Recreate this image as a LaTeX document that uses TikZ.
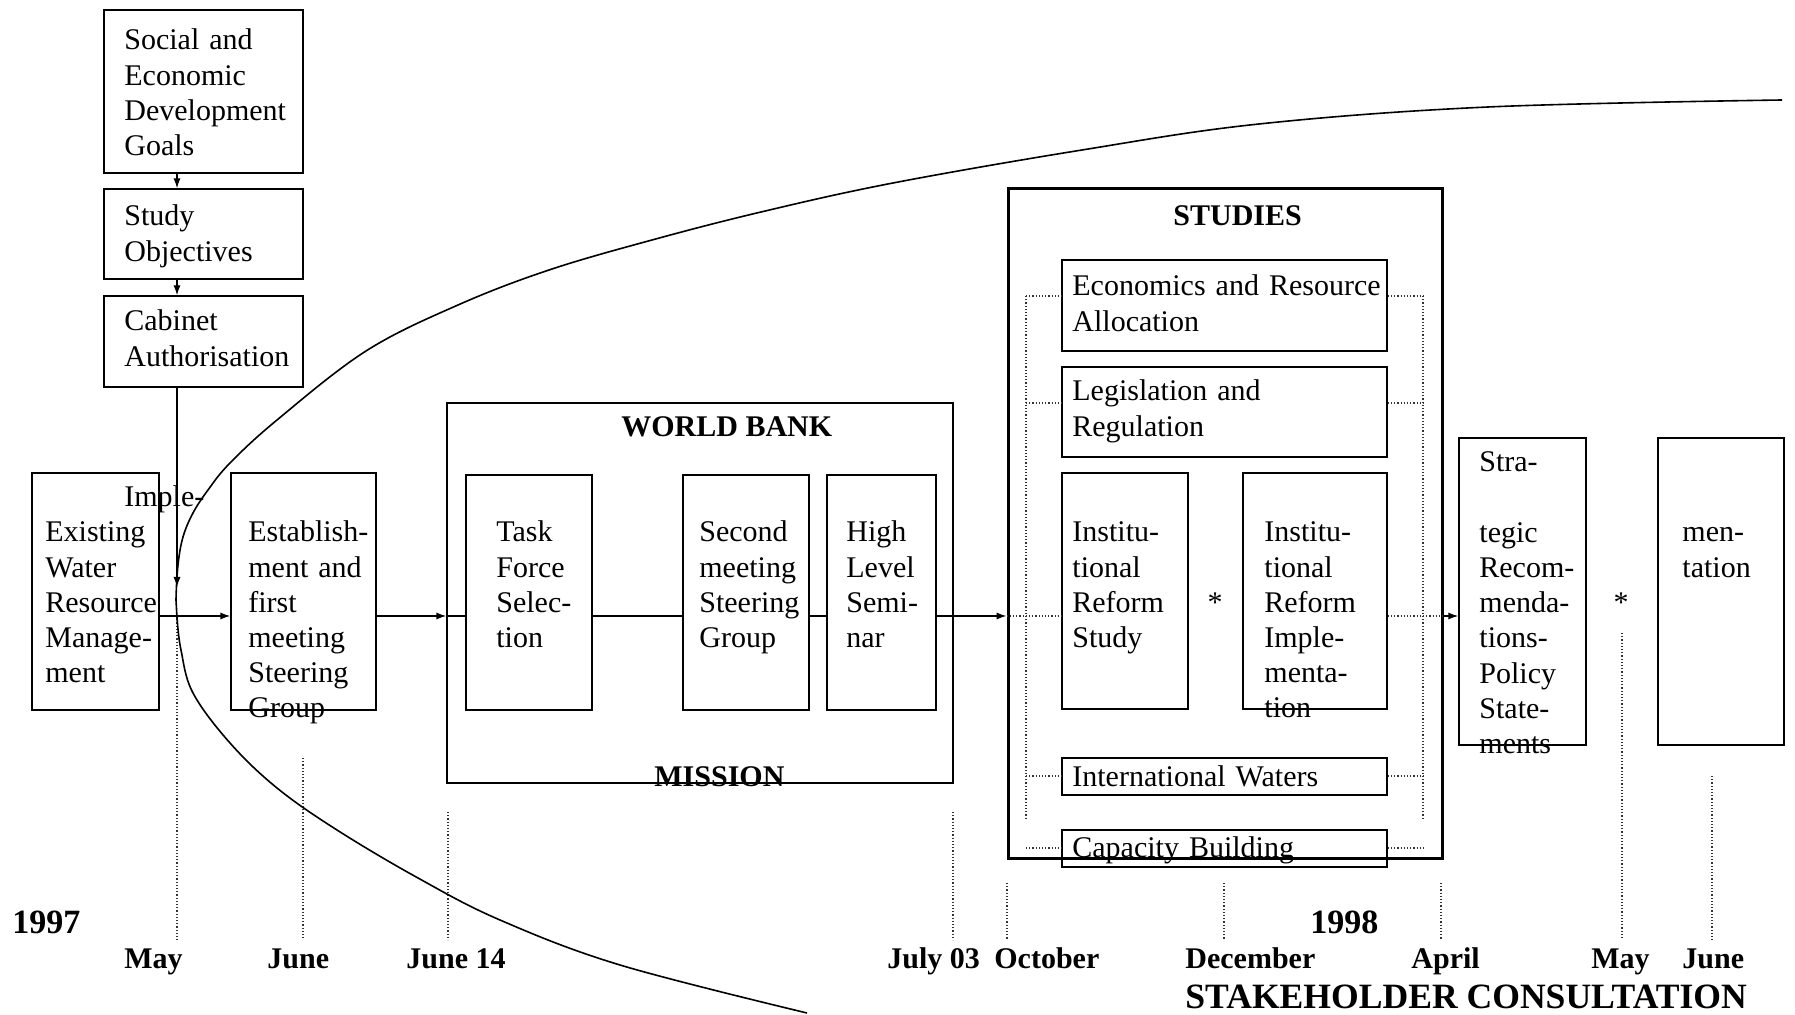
\documentclass[tikz,border=0pt]{standalone}
\usepackage{fontspec}
\setmainfont{Liberation Serif}
\usetikzlibrary{arrows.meta,fit}

\begin{document}
\begin{tikzpicture}[x=0.5pt, y=-0.5pt,
  box/.style={draw, line width=0.7pt, inner sep=0pt},
  txt/.style={anchor=base west, inner sep=0pt, align=left, text width=240pt, font=\fontsize{15}{17.6}\selectfont},
  head/.style={anchor=base west, inner sep=0pt, font=\fontsize{15}{18}\selectfont\bfseries},
  year/.style={anchor=base west, inner sep=0pt, font=\fontsize{17}{20}\selectfont\bfseries},
  arr/.style={line width=0.7pt, -{Latex[length=5pt,width=3.6pt]}},
  link/.style={line width=0.7pt},
  dots/.style={line width=0.6pt, densely dotted, black!80}]
\useasboundingbox (0,0) rectangle (1795,1015);
\pgfmathsetmacro{\ymain}{616} % height of the main line
\pgfmathsetmacro{\ybot}{940} % foot of the time lines
\coordinate (may) at (177,\ymain);
\coordinate (tip) at (177,587);

% boxes
\node[box, fit={(104,10) (303,173)}] (goals) {};
\node[box, fit={(104,189) (303,279)}] (objectives) {};
\node[box, fit={(104,296) (303,387)}] (cabinet) {};
\node[box, fit={(32,473) (159,710)}] (existing) {};
\node[box, fit={(231,473) (376,710)}] (establish) {};
\node[box, fit={(447,403) (953,783)}] (bank) {};
\node[box, fit={(466,475) (592,710)}] (task) {};
\node[box, fit={(683,475) (809,710)}] (second) {};
\node[box, fit={(827,475) (936,710)}] (seminar) {};
\node[box, line width=1.5pt, fit={(1008,189) (1442,858)}] (studies) {};
\node[box, fit={(1062,260) (1387,351)}] (econ) {};
\node[box, fit={(1062,367) (1387,457)}] (legis) {};
\node[box, fit={(1062,473) (1188,709)}] (instudy) {};
\node[box, fit={(1243,473) (1387,709)}] (inimpl) {};
\node[box, fit={(1062,758) (1387,795)}] (intl) {};
\node[box, fit={(1062,830) (1387,867)}] (capacity) {};
\node[box, fit={(1459,438) (1586,745)}] (strategic) {};
\node[box, fit={(1658,438) (1784,745)}] (implement) {};

% texts
\node[txt] (goalstext) at (124,50) {Social and\\Economic\\Development\\Goals};
\node[txt] (objtext) at (124,226) {Study\\Objectives};
\node[txt] (cabtext) at (124,331) {Cabinet\\Authorisation};
\node[txt] (impltop) at (124,507) {Imple-};
\node[txt] (existtext) at (45,542) {Existing\\Water\\Resource\\Manage-\\ment};
\node[txt] (esttext) at (248,542) {Establish-\\ment and\\first\\meeting\\Steering\\Group};
\node[txt] (tasktext) at (496,542) {Task\\Force\\Selec-\\tion};
\node[txt] (sectext) at (699,542) {Second\\meeting\\Steering\\Group};
\node[txt] (semtext) at (846,542) {High\\Level\\Semi-\\nar};
\node[txt] (econtext) at (1072,296) {Economics and Resource\\Allocation};
\node[txt] (legistext) at (1072,401) {Legislation and\\Regulation};
\node[txt] (studytext) at (1072,542) {Institu-\\tional\\Reform\\Study};
\node[txt] (impltext) at (1264,542) {Institu-\\tional\\Reform\\Imple-\\menta-\\tion};
\node[txt] (intltext) at (1072,787) {International Waters};
\node[txt] (captext) at (1072,857) {Capacity Building};
\node[txt] (strattext) at (1479,472) {Stra-\\[17.6pt]tegic\\Recom-\\menda-\\tions-\\Policy\\State-\\ments};
\node[txt] (mentext) at (1682,542) {men-\\tation};
\node[anchor=base, inner sep=0pt, font=\fontsize{15}{18}\selectfont] (star1) at (1215,613) {*};
\node[anchor=base, inner sep=0pt, font=\fontsize{15}{18}\selectfont] (star2) at (1621,613) {*};
\node[head] (banktext) at (621,437) {WORLD BANK};
\node[head] (mission) at (654,787) {MISSION};
\node[head] (studiestext) at (1173,226) {STUDIES};

% connectors
\draw[arr] (goals.south -| may) -- (objectives.north -| may);
\draw[arr] (objectives.south -| may) -- (cabinet.north -| may);
\draw[arr] (cabinet.south -| may) -- (tip);
\draw[arr] (existing.east |- may) -- (establish.west |- may);
\draw[arr] (establish.east |- may) -- (bank.west |- may);
\draw[link] (bank.west |- may) -- (task.west |- may);
\draw[link] (task.east |- may) -- (second.west |- may);
\draw[link] (second.east |- may) -- (seminar.west |- may);
\draw[link] (seminar.east |- may) -- (bank.east |- may);
\draw[arr] (bank.east |- may) -- (studies.west |- may);
\draw[dots] (studies.west |- may) -- (instudy.west |- may);
\draw[dots] (inimpl.east |- may) -- (studies.east |- may);
\draw[arr] (studies.east |- may) -- (strategic.west |- may);

% dotted bracket round the studies
\draw[dots] (1026,296) -- (1026,818);
\draw[dots] (1423,296) -- (1423,818);
\foreach \b/\y in {econ/296, legis/403, intl/776, capacity/848} {
  \draw[dots] (1026,\y) -- (\b.west |- 0,\y);
  \draw[dots] (\b.east |- 0,\y) -- (1423,\y);
}

% time lines
\foreach \x/\t in {177/616, 303/758, 448/812, 953/812, 1007/883, 1224/883, 1441/883, 1622/633, 1712/776}
  \draw[dots] (\x,\t) -- (\x,\ybot);
\node[year] (y97) at (12,933) {1997};
\node[year] (y98) at (1310,933) {1998};
\foreach \x/\m in {124/May, 267/June, 406/June 14, 887/July 03, 994/October, 1185/December, 1411/April, 1591/May, 1682/June}
  \node[head] at (\x,968) {\m};
\node[anchor=base west, inner sep=0pt, font=\fontsize{17.8}{21}\selectfont\bfseries] (consult) at (1185,1008) {STAKEHOLDER CONSULTATION};

% the curve
\draw[line width=0.8pt] plot[smooth, tension=0.6] coordinates {(807,1013) (620,965) (500,920) (418,878) (337,830) (277,788) (230,743) (193,693) (181,650) (177,618) (176,600) (178,565) (183,537) (193,513) (208,490) (230,463) (277,420) (366,351) (458,305) (549,270) (652,240) (761,212) (893,183) (1082,150) (1259,124) (1488,107) (1782,100)};
\end{tikzpicture}
\end{document}
